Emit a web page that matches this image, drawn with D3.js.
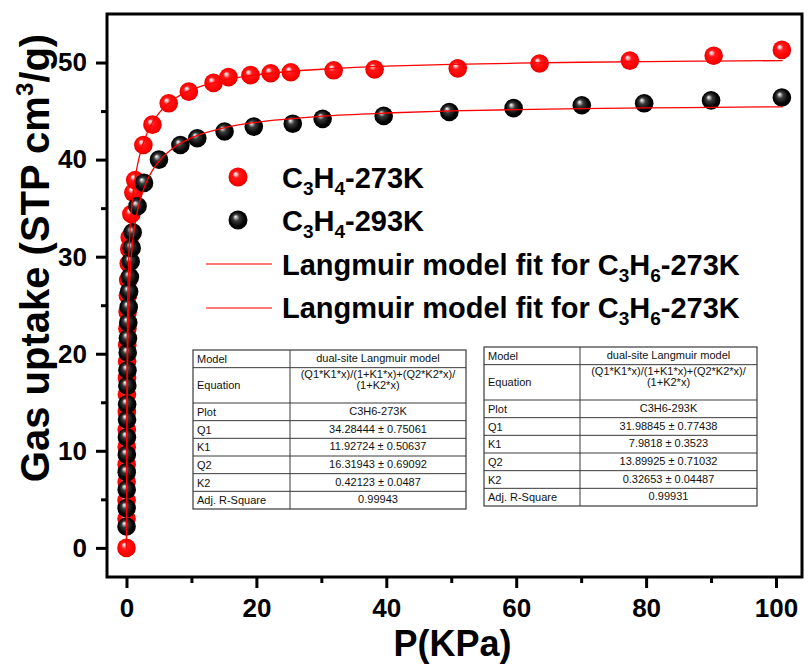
<!DOCTYPE html>
<html>
<head>
<meta charset="utf-8">
<script src="https://cdn.jsdelivr.net/npm/d3@7"></script>
<style>
  html, body { margin: 0; padding: 0; background: #fff; }
  svg { display: block; }
</style>
</head>
<body>
<div id="chart"></div>
<script>
// ---------------- DATA ----------------
const xTicks = [0, 20, 40, 60, 80, 100];
const xMinorTicks = [10, 30, 50, 70, 90];
const yTicks = [0, 10, 20, 30, 40, 50];
const yMinorTicks = [5, 15, 25, 35, 45];

// C3H4-273K measured points
const p273 = [0, 0.008, 0.014, 0.02, 0.028, 0.036, 0.046, 0.056, 0.068, 0.083, 0.1, 0.12, 0.145, 0.18, 0.22, 0.27, 0.34, 0.42, 0.5, 0.75, 1.05, 1.35, 2.6, 4.0, 6.5, 9.6, 13.4, 15.7, 19.1, 22.2, 25.3, 31.9, 38.2, 51.0, 63.6, 77.5, 90.4, 100.9];
const q273 = [0, 3.0, 4.9, 6.8, 8.6, 10.4, 12.2, 14.0, 15.8, 17.5, 19.2, 20.9, 22.6, 24.3, 26.0, 27.6, 29.3, 30.8, 32.0, 34.4, 36.6, 37.9, 41.5, 43.6, 45.8, 47.0, 47.9, 48.5, 48.7, 48.9, 49.0, 49.2, 49.3, 49.4, 49.9, 50.2, 50.7, 51.3];

// C3H4-293K measured points
const p293 = [0.009, 0.018, 0.028, 0.039, 0.052, 0.067, 0.085, 0.102, 0.127, 0.155, 0.19, 0.225, 0.275, 0.34, 0.41, 0.52, 0.65, 0.8, 0.95, 1.7, 2.7, 5.0, 8.3, 10.9, 15.1, 19.6, 25.6, 30.2, 39.6, 49.7, 59.6, 70.1, 79.7, 90.0, 100.9];
const q293 = [2.2, 4.1, 6.0, 7.8, 9.6, 11.4, 13.2, 14.8, 16.7, 18.3, 20.1, 21.6, 23.2, 24.8, 26.4, 27.9, 29.5, 30.9, 32.5, 35.2, 37.6, 40.0, 41.5, 42.2, 42.9, 43.4, 43.7, 44.2, 44.5, 44.9, 45.3, 45.6, 45.8, 46.1, 46.4];

// Fit curves
const fitP = [0, 0.01, 0.02, 0.03, 0.05, 0.07, 0.1, 0.15, 0.2, 0.3, 0.5, 0.75, 1, 1.5, 2, 3, 4, 5, 7, 10, 15, 20, 30, 40, 50, 60, 70, 80, 90, 101];
const fit273 = [0, 3.72, 6.74, 9.24, 13.14, 16.07, 19.31, 22.96, 25.43, 28.63, 32.20, 34.76, 36.47, 38.79, 40.37, 42.46, 43.82, 44.79, 46.07, 47.19, 48.18, 48.73, 49.31, 49.62, 49.81, 49.93, 50.03, 50.10, 50.15, 50.20];
const fit293 = [0, 2.41, 4.49, 6.32, 9.35, 11.78, 14.64, 18.08, 20.52, 23.80, 27.53, 30.14, 31.85, 34.09, 35.59, 37.58, 38.89, 39.83, 41.10, 42.24, 43.27, 43.84, 44.47, 44.80, 45.01, 45.15, 45.25, 45.33, 45.38, 45.44];

// Tables
const tableLabels = ["Model", "Equation", "Plot", "Q1", "K1", "Q2", "K2", "Adj. R-Square"];
const table1Values = ["dual-site Langmuir model", ["(Q1*K1*x)/(1+K1*x)+(Q2*K2*x)/", "(1+K2*x)"], "C3H6-273K", "34.28444 \u00b1 0.75061", "11.92724 \u00b1 0.50637", "16.31943 \u00b1 0.69092", "0.42123 \u00b1 0.0487", "0.99943"];
const table2Values = ["dual-site Langmuir model", ["(Q1*K1*x)/(1+K1*x)+(Q2*K2*x)/", "(1+K2*x)"], "C3H6-293K", "31.98845 \u00b1 0.77438", "7.9818 \u00b1 0.3523", "13.89925 \u00b1 0.71032", "0.32653 \u00b1 0.04487", "0.99931"];

// ---------------- DRAW ----------------
const W = 808, H = 665;
const FONT = "'Liberation Sans', Arial, Helvetica, sans-serif";
const plot = { left: 107, right: 802, top: 14, bottom: 577 };

const svg = d3.select("#chart").append("svg")
  .attr("width", W).attr("height", H)
  .style("font-family", FONT);

const defs = svg.append("defs");
function sphere(id, stops) {
  const g = defs.append("radialGradient").attr("id", id)
    .attr("cx", "50%").attr("cy", "50%").attr("r", "55%")
    .attr("fx", "36%").attr("fy", "32%");
  stops.forEach(s => g.append("stop").attr("offset", s[0]).attr("stop-color", s[1]));
}
sphere("ballRed", [["0%", "#ffffff"], ["14%", "#ffb0b0"], ["32%", "#ff1a1a"], ["75%", "#ff0000"], ["100%", "#d00000"]]);
sphere("ballBlack", [["0%", "#ffffff"], ["12%", "#b8b8b8"], ["32%", "#3a3a3a"], ["70%", "#050505"], ["100%", "#000000"]]);

const x = d3.scaleLinear().domain([-3, 104]).range([plot.left, plot.right]);
const y = d3.scaleLinear().domain([-3, 55]).range([plot.bottom, plot.top]);

// Axes
function styleAxis(g) {
  g.select(".domain").remove();
  g.selectAll(".tick line").attr("stroke", "#000").attr("stroke-width", 3);
  g.selectAll(".tick text").attr("fill", "#000").style("font-size", "26px").style("font-weight", "bold").style("font-family", FONT);
}
svg.append("g").attr("transform", `translate(0,${plot.bottom})`)
  .call(d3.axisBottom(x).tickValues(xTicks).tickSize(11).tickPadding(11).tickFormat(d3.format("d")))
  .call(styleAxis);
svg.append("g").attr("transform", `translate(0,${plot.bottom})`)
  .call(d3.axisBottom(x).tickValues(xMinorTicks).tickSize(6).tickFormat(""))
  .call(styleAxis);
svg.append("g").attr("transform", `translate(${plot.left},0)`)
  .call(d3.axisLeft(y).tickValues(yTicks).tickSize(11).tickPadding(9).tickFormat(d3.format("d")))
  .call(styleAxis);
svg.append("g").attr("transform", `translate(${plot.left},0)`)
  .call(d3.axisLeft(y).tickValues(yMinorTicks).tickSize(6).tickFormat(""))
  .call(styleAxis);

// Frame
svg.append("rect")
  .attr("x", plot.left).attr("y", plot.top)
  .attr("width", plot.right - plot.left).attr("height", plot.bottom - plot.top)
  .attr("fill", "none").attr("stroke", "#000").attr("stroke-width", 3);

// Axis titles
svg.append("text")
  .attr("x", (plot.left + plot.right) / 2 - 2).attr("y", 656)
  .attr("text-anchor", "middle")
  .style("font-size", "36px").style("font-weight", "bold")
  .text("P(KPa)");

const yt = svg.append("text")
  .attr("transform", "translate(49,258) rotate(-90)")
  .attr("text-anchor", "middle")
  .style("font-size", "40px").style("font-weight", "bold");
yt.append("tspan").text("Gas uptake (STP cm");
yt.append("tspan").attr("dy", -16).style("font-size", "24px").text("3");
yt.append("tspan").attr("dy", 16).text("/g)");

// Tables
function drawTable(x0, x1, xDiv, y0, y1, values) {
  const units = 9;
  const rh = (y1 - y0) / units;
  const g = svg.append("g");
  let cy = y0;
  const rows = tableLabels.map((lab, i) => {
    const h = (i === 1 ? 2 : 1) * rh;
    const r = { label: lab, value: values[i], top: cy, h: h };
    cy += h;
    return r;
  });
  g.append("rect").attr("x", x0).attr("y", y0).attr("width", x1 - x0).attr("height", y1 - y0)
    .attr("fill", "#fff").attr("stroke", "#3a3a3a").attr("stroke-width", 1.2);
  g.append("line").attr("x1", xDiv).attr("x2", xDiv).attr("y1", y0).attr("y2", y1)
    .attr("stroke", "#3a3a3a").attr("stroke-width", 1);
  rows.slice(1).forEach(r => {
    g.append("line").attr("x1", x0).attr("x2", x1).attr("y1", r.top).attr("y2", r.top)
      .attr("stroke", "#3a3a3a").attr("stroke-width", 1);
  });
  rows.forEach(r => {
    g.append("text").attr("x", x0 + 4).attr("y", r.top + r.h / 2 + 4)
      .style("font-size", "11px").attr("fill", "#111").text(r.label);
    const cx = (xDiv + x1) / 2;
    if (Array.isArray(r.value)) {
      r.value.forEach((v, k) => {
        g.append("text").attr("x", cx).attr("y", r.top + 10 + k * 11.5)
          .attr("text-anchor", "middle").style("font-size", "11px").attr("fill", "#111").text(v);
      });
    } else {
      g.append("text").attr("x", cx).attr("y", r.top + r.h / 2 + 3)
        .attr("text-anchor", "middle").style("font-size", "11px").attr("fill", "#111").text(r.value);
    }
  });
}
drawTable(193, 466, 290, 350, 509, table1Values);
drawTable(484, 757, 580, 347, 506, table2Values);

// Fit lines
const line = d3.line().x(d => x(d[0])).y(d => y(d[1])).curve(d3.curveMonotoneX);
const clip = defs.append("clipPath").attr("id", "plotClip");
clip.append("rect").attr("x", plot.left).attr("y", plot.top).attr("width", plot.right - plot.left).attr("height", plot.bottom - plot.top);

const dataG = svg.append("g").attr("clip-path", "url(#plotClip)");

// Points
const r = 9.3;
const pts273 = p273.map((p, i) => [p, q273[i]]);
const pts293 = p293.map((p, i) => [p, q293[i]]);
dataG.selectAll("circle.red").data(pts273).enter().append("circle")
  .attr("class", "red").attr("cx", d => x(d[0])).attr("cy", d => y(d[1])).attr("r", r)
  .attr("fill", "url(#ballRed)");
dataG.selectAll("circle.black").data(pts293).enter().append("circle")
  .attr("class", "black").attr("cx", d => x(d[0])).attr("cy", d => y(d[1])).attr("r", r)
  .attr("fill", "url(#ballBlack)");

dataG.append("path").datum(fitP.map((p, i) => [p, fit273[i]]))
  .attr("d", line).attr("fill", "none").attr("stroke", "#ff0000").attr("stroke-width", 1.3);
dataG.append("path").datum(fitP.map((p, i) => [p, fit293[i]]))
  .attr("d", line).attr("fill", "none").attr("stroke", "#ff0000").attr("stroke-width", 1.3);

// Legend
const leg = svg.append("g").style("font-weight", "bold");
function chemLabel(yb, parts) {
  const tx = leg.append("text").attr("x", 282).attr("y", yb).style("font-size", "29px");
  let shifted = false;
  parts.forEach(p => {
    const ts = tx.append("tspan").text(p.t);
    if (p.sub) {
      ts.style("font-size", "19px");
      if (!shifted) { ts.attr("dy", 7); shifted = true; }
    } else if (shifted) {
      ts.attr("dy", -7); shifted = false;
    }
  });
}
leg.append("circle").attr("cx", 238).attr("cy", 177).attr("r", 9.5).attr("fill", "url(#ballRed)");
chemLabel(188, [{t: "C"}, {t: "3", sub: true}, {t: "H"}, {t: "4", sub: true}, {t: "-273K"}]);
leg.append("circle").attr("cx", 238).attr("cy", 220).attr("r", 9.5).attr("fill", "url(#ballBlack)");
chemLabel(231, [{t: "C"}, {t: "3", sub: true}, {t: "H"}, {t: "4", sub: true}, {t: "-293K"}]);
leg.append("line").attr("x1", 206).attr("x2", 272).attr("y1", 264).attr("y2", 264)
  .attr("stroke", "#ff4d4d").attr("stroke-width", 1.5);
chemLabel(275, [{t: "Langmuir model fit for C"}, {t: "3", sub: true}, {t: "H"}, {t: "6", sub: true}, {t: "-273K"}]);
leg.append("line").attr("x1", 206).attr("x2", 272).attr("y1", 308).attr("y2", 308)
  .attr("stroke", "#ff4d4d").attr("stroke-width", 1.5);
chemLabel(318, [{t: "Langmuir model fit for C"}, {t: "3", sub: true}, {t: "H"}, {t: "6", sub: true}, {t: "-273K"}]);
</script>
</body>
</html>
